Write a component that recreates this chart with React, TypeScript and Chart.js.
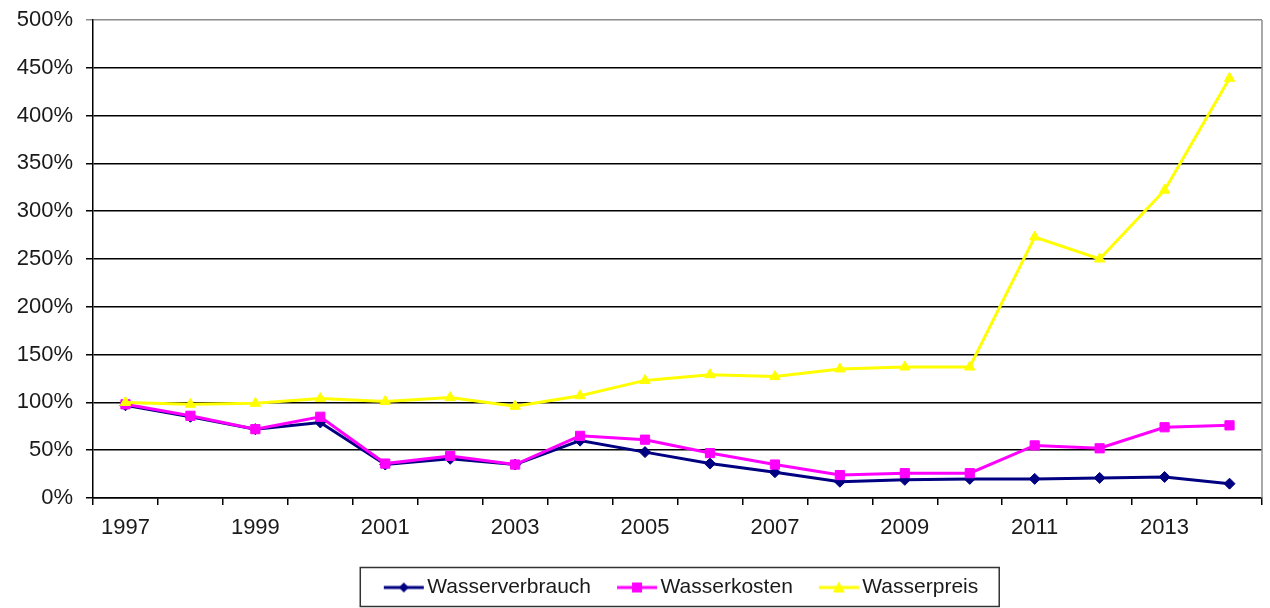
import React, { useEffect, useRef } from "react";
import { Chart, registerables } from "chart.js";

Chart.register(...registerables);

const YEARS = ["1997","1998","1999","2000","2001","2002","2003","2004","2005","2006","2007","2008","2009","2010","2011","2012","2013","2014"];
const X_TICK_LABELS = ["1997","1999","2001","2003","2005","2007","2009","2011","2013"];
const WASSERVERBRAUCH = [97, 85, 72, 79, 35, 41, 35, 60, 48, 36, 27, 17, 19, 20, 20, 21, 22, 15];
const WASSERKOSTEN = [98, 86, 72, 85, 36, 44, 35, 65, 61, 47, 35, 24, 26, 26, 55, 52, 74, 76];
const WASSERPREIS = [100, 98, 99, 104, 101, 105, 96, 107, 123, 129, 127, 135, 137, 137, 273, 250, 322, 439];

const NAVY = "#000080";
const MAGENTA = "#FF00FF";
const YELLOW = "#FFFF00";
const FONT = "'Liberation Sans', Arial, sans-serif";

function makeLegendSymbol(color: string, kind: "diamond" | "square" | "triangle") {
  const c = document.createElement("canvas");
  c.width = 56;
  c.height = 16;
  const g = c.getContext("2d")!;
  g.strokeStyle = color;
  g.lineWidth = 3;
  g.beginPath();
  g.moveTo(15, 8);
  g.lineTo(55, 8);
  g.stroke();
  g.fillStyle = color;
  g.beginPath();
  if (kind === "diamond") {
    g.moveTo(35, 3); g.lineTo(40, 8); g.lineTo(35, 13); g.lineTo(30, 8);
  } else if (kind === "square") {
    g.rect(30, 3, 10, 10);
  } else {
    g.moveTo(35, 2); g.lineTo(41, 13); g.lineTo(29, 13);
  }
  g.closePath();
  g.fill();
  return c;
}

export default function App() {
  const ref = useRef<HTMLCanvasElement | null>(null);

  useEffect(() => {
    document.body.style.margin = "0";
    const canvas = ref.current;
    if (!canvas) return;
    const symbols = [
      makeLegendSymbol(NAVY, "diamond"),
      makeLegendSymbol(MAGENTA, "square"),
      makeLegendSymbol(YELLOW, "triangle"),
    ];

    const frame = {
      id: "frame",
      beforeDatasetsDraw(chart: any) {
        const { ctx, chartArea } = chart;
        ctx.save();
        ctx.strokeStyle = "#8c8c8c";
        ctx.lineWidth = 1.5;
        ctx.beginPath();
        ctx.moveTo(chartArea.right, chartArea.top);
        ctx.lineTo(chartArea.right, chartArea.bottom);
        ctx.stroke();
        ctx.restore();
      },
      afterDraw(chart: any) {
        const lg = chart.legend;
        if (!lg || !lg.legendHitBoxes || !lg.legendHitBoxes.length) return;
        const hb = lg.legendHitBoxes;
        const first = hb[0];
        const last = hb[hb.length - 1];
        const left = first.left - 16.5;
        const right = last.left + last.width + 21;
        const top = first.top - 9.5;
        const bottom = first.top + first.height + 8.5;
        const { ctx } = chart;
        ctx.save();
        ctx.strokeStyle = "#333333";
        ctx.lineWidth = 1.5;
        ctx.strokeRect(left, top, right - left, bottom - top);
        ctx.restore();
      },
    };

    const chart = new Chart(canvas, {
      type: "line",
      data: {
        labels: YEARS,
        datasets: [
          {
            label: "Wasserverbrauch",
            data: WASSERVERBRAUCH,
            borderColor: NAVY,
            backgroundColor: NAVY,
            borderWidth: 3,
            pointStyle: "rectRot",
            pointRadius: 5.5,
            pointBorderWidth: 1,
            order: 3,
          },
          {
            label: "Wasserkosten",
            data: WASSERKOSTEN,
            borderColor: MAGENTA,
            backgroundColor: MAGENTA,
            borderWidth: 3,
            pointStyle: "rect",
            pointRadius: 6.5,
            pointBorderWidth: 1,
            order: 2,
          },
          {
            label: "Wasserpreis",
            data: WASSERPREIS,
            borderColor: YELLOW,
            backgroundColor: YELLOW,
            borderWidth: 3,
            pointStyle: "triangle",
            pointRadius: 6,
            pointBorderWidth: 1,
            order: 1,
          },
        ],
      },
      options: {
        responsive: false,
        animation: false,
        layout: { padding: { left: 0, right: 8, top: 20, bottom: 0 } },
        plugins: {
          tooltip: { enabled: false },
          legend: {
            position: "bottom",
            fullSize: false,
            labels: {
              usePointStyle: true,
              pointStyleWidth: 40,
              padding: 19,
              color: "#1a1a1a",
              font: { family: FONT, size: 21 },
              sort: (a: any, b: any) => a.datasetIndex - b.datasetIndex,
              generateLabels: (ch: any) => {
                const items = (Chart.defaults.plugins.legend.labels as any).generateLabels(ch);
                return items.map((it: any) => ({ ...it, pointStyle: symbols[it.datasetIndex] }));
              },
            },
          },
        },
        scales: {
          x: {
            type: "category",
            offset: true,
            afterFit: (s: any) => { s.height = 60; s.paddingLeft = 0; s.paddingRight = 0; },
            grid: {
              offset: true,
              drawOnChartArea: false,
              drawTicks: true,
              tickLength: 7,
              color: "#000",
              lineWidth: 1.5,
            },
            border: { color: "#000", width: 1.5 },
            ticks: {
              autoSkip: false,
              maxRotation: 0,
              padding: 10,
              color: "#1a1a1a",
              font: { family: FONT, size: 22 },
              callback: (_v: any, i: number) => (X_TICK_LABELS.includes(YEARS[i]) ? YEARS[i] : ""),
            },
          },
          y: {
            min: 0,
            max: 500,
            afterFit: (s: any) => { s.width = 93; s.paddingTop = 0; s.paddingBottom = 0; },
            grid: {
              color: (c: any) => (c.tick && c.tick.value === 500 ? "#8c8c8c" : "#000"),
              lineWidth: 1.5,
              tickLength: 7,
            },
            border: { color: "#000", width: 1.5 },
            ticks: {
              stepSize: 50,
              padding: 13,
              color: "#1a1a1a",
              font: { family: FONT, size: 22 },
              callback: (v: any) => v + "%",
            },
          },
        },
      },
      plugins: [frame],
    } as any);

    return () => chart.destroy();
  }, []);

  return (
    <div style={{ width: 1270, height: 608, position: "relative" }}>
      <canvas ref={ref} width={1270} height={608} style={{ display: "block" }} />
    </div>
  );
}
